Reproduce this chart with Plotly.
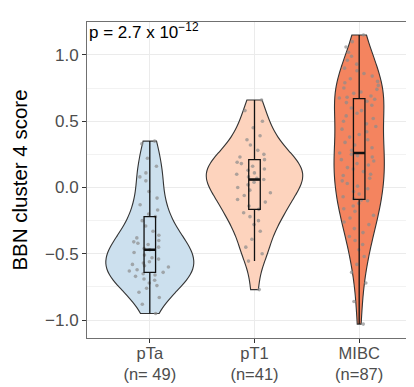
import numpy as np
import plotly.graph_objects as go

categories = ["pTa", "pT1", "MIBC"]
tick_labels = ["pTa<br>(n= 49)", "pT1<br>(n=41)", "MIBC<br>(n=87)"]

pTa_scores = [0.35, 0.33, 0.22, 0.16, 0.11, 0.08, 0.05, -0.03, -0.08, -0.13, -0.17, -0.20,
              -0.22,
              -0.25, -0.29, -0.33, -0.36, -0.38, -0.40, -0.41, -0.42, -0.43, -0.45, -0.46,
              -0.47,
              -0.49, -0.51, -0.53, -0.54, -0.56, -0.57, -0.58, -0.59, -0.60, -0.62, -0.63,
              -0.64,
              -0.65, -0.66, -0.67, -0.69, -0.70, -0.72, -0.74, -0.76, -0.79, -0.83, -0.88, -0.95]

pT1_scores = [0.66, 0.58, 0.50, 0.45, 0.39, 0.36, 0.32, 0.28, 0.25, 0.23,
              0.21,
              0.19, 0.18, 0.16, 0.14, 0.13, 0.11, 0.10, 0.08, 0.07,
              0.06,
              0.04, 0.02, 0.00, -0.02, -0.04, -0.06, -0.09, -0.11, -0.14,
              -0.165,
              -0.19, -0.22, -0.25, -0.28, -0.33, -0.39, -0.45, -0.50, -0.555, -0.77]

MIBC_scores = [-1.03, -0.86, -0.72, -0.64, -0.58, -0.52, -0.47, -0.43, -0.40, -0.37, -0.34,
               -0.31, -0.28, -0.26, -0.23, -0.21, -0.18, -0.16, -0.14, -0.12, -0.10,
               -0.095, -0.085,
               -0.07, -0.05, -0.03, -0.01, 0.01, 0.03, 0.05, 0.07, 0.09, 0.10,
               0.12, 0.14, 0.15, 0.17, 0.18, 0.20, 0.21, 0.23, 0.24, 0.25,
               0.26,
               0.28, 0.30, 0.32, 0.34, 0.36, 0.38, 0.40, 0.42, 0.44, 0.46,
               0.48, 0.50, 0.52, 0.54, 0.56, 0.58, 0.60, 0.62, 0.64, 0.65,
               0.665, 0.675,
               0.68, 0.69, 0.71, 0.72, 0.74, 0.75, 0.77, 0.79, 0.80, 0.82,
               0.84, 0.86, 0.88, 0.90, 0.93, 0.96, 0.99, 1.02, 1.06, 1.10, 1.15]

fill_colors = ["#CCE0EE", "#FDD3BD", "#F4845F"]
violin_widths = [0.84, 0.92, 0.48]
y_tick_vals = [-1.0, -0.5, 0.0, 0.5, 1.0]
y_tick_text = ["\u22121.0", "\u22120.5", "0.0", "0.5", "1.0"]
y_minor_vals = [-0.75, -0.25, 0.25, 0.75]
y_title = "BBN cluster 4 score"
p_label = "p = 2.7 x 10<sup>\u221212</sup>"

groups = [np.array(pTa_scores), np.array(pT1_scores), np.array(MIBC_scores)]

FONT = "Liberation Sans, Arial, Helvetica, sans-serif"


def nrd0(v):
    sd = np.std(v, ddof=1)
    iqr = np.subtract(*np.percentile(v, [75, 25]))
    return 0.9 * min(sd, iqr / 1.34) * len(v) ** -0.2


bws = [nrd0(v) for v in groups]

fig = go.Figure()

# violins
for cat, v, col, bw, w in zip(categories, groups, fill_colors, bws, violin_widths):
    fig.add_trace(go.Violin(
        x=[cat] * len(v), y=v, name=cat,
        fillcolor=col, line=dict(color="#333333", width=1.1),
        spanmode="hard", bandwidth=bw, width=w, scalemode="width",
        points=False, box_visible=False, meanline_visible=False,
        opacity=1, showlegend=False, hoverinfo="skip",
    ))

# jittered points
for cat, v in zip(categories, groups):
    fig.add_trace(go.Box(
        x=[cat] * len(v), y=v, name=cat,
        boxpoints="all", jitter=1, pointpos=0, width=0.42,
        fillcolor="rgba(0,0,0,0)", line=dict(color="rgba(0,0,0,0)", width=0),
        marker=dict(color="#8c8c8c", size=3.6, opacity=0.7),
        showlegend=False, hoverinfo="skip",
    ))

# boxes (ggplot style: whiskers to last point within 1.5 IQR)
for cat, v in zip(categories, groups):
    q1, med, q3 = np.percentile(v, [25, 50, 75])
    iqr = q3 - q1
    lf = v[v >= q1 - 1.5 * iqr].min()
    uf = v[v <= q3 + 1.5 * iqr].max()
    fig.add_trace(go.Box(
        x=[cat], q1=[q1], median=[med], q3=[q3], lowerfence=[lf], upperfence=[uf],
        width=0.11, whiskerwidth=0, boxpoints=False,
        fillcolor="rgba(0,0,0,0)", line=dict(color="#111111", width=1.3),
        showlegend=False, hoverinfo="skip",
    ))
    fig.add_trace(go.Box(
        x=[cat], q1=[med], median=[med], q3=[med], lowerfence=[med], upperfence=[med],
        width=0.11, whiskerwidth=0, boxpoints=False,
        fillcolor="rgba(0,0,0,0)", line=dict(color="#111111", width=2.6),
        showlegend=False, hoverinfo="skip",
    ))

fig.add_annotation(
    text=p_label, xref="paper", yref="paper", x=0.0, y=0.97, xshift=0,
    xanchor="left", yanchor="middle", showarrow=False,
    font=dict(family=FONT, size=17, color="#000000"),
)

fig.update_layout(
    width=414, height=387, autosize=False,
    margin=dict(l=79, r=0, t=14, b=57, pad=0),
    paper_bgcolor="white", plot_bgcolor="white",
    violinmode="overlay", boxmode="overlay",
    font=dict(family=FONT, size=16, color="#4d4d4d"),
    showlegend=False,
    xaxis=dict(
        type="category", categoryorder="array", categoryarray=categories,
        range=[-0.6, 2.6], tickmode="array", tickvals=categories, ticktext=tick_labels,
        ticks="outside", ticklen=4, tickcolor="#333333", tickwidth=1,
        ticklabelstandoff=-4,
        showgrid=True, gridcolor="#ebebeb", gridwidth=1,
        showline=True, mirror=True, linecolor="#707070", linewidth=1,
        tickfont=dict(family=FONT, size=16.5, color="#4d4d4d"),
        zeroline=False, fixedrange=True,
    ),
    yaxis=dict(
        range=[-1.135, 1.248], tickmode="array", tickvals=y_tick_vals, ticktext=y_tick_text,
        ticks="outside", ticklen=4, tickcolor="#333333", tickwidth=1,
        showgrid=True, gridcolor="#ebebeb", gridwidth=1,
        minor=dict(tickmode="array", tickvals=y_minor_vals, showgrid=True,
                   gridcolor="#f2f2f2", gridwidth=1, ticks=""),
        showline=True, mirror=False, linecolor="#707070", linewidth=1,
        tickfont=dict(family=FONT, size=17, color="#4d4d4d"),
        title=dict(text=y_title, font=dict(family=FONT, size=20.5, color="#000000"), standoff=14),
        zeroline=False, fixedrange=True,
    ),
)

fig.write_html("out.html")
